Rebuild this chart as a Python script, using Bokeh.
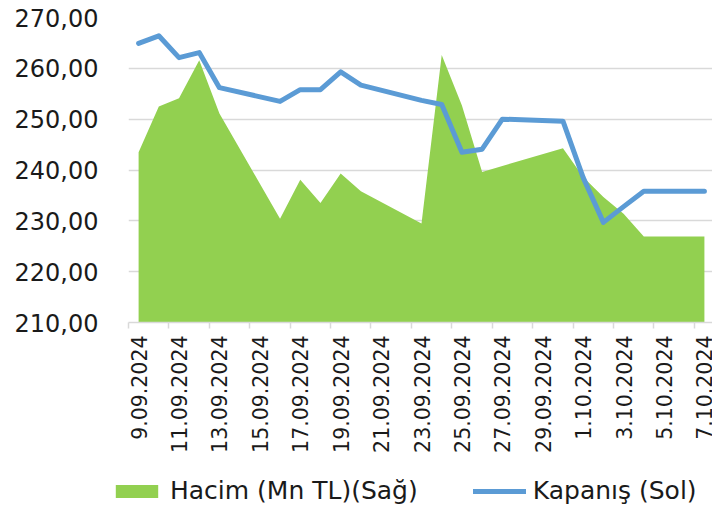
import math
from datetime import date
from bokeh.plotting import figure
from bokeh.layouts import column
from bokeh.models import (Range1d, FixedTicker, Legend, LegendItem, ColumnDataSource)
from bokeh.embed import file_html
from bokeh.resources import INLINE

# ---- data ----
dates = ["9.09.2024", "10.09.2024", "11.09.2024", "12.09.2024", "13.09.2024",
         "16.09.2024", "17.09.2024", "18.09.2024", "19.09.2024", "20.09.2024",
         "23.09.2024", "24.09.2024", "25.09.2024", "26.09.2024", "27.09.2024",
         "30.09.2024", "1.10.2024", "2.10.2024", "3.10.2024", "4.10.2024",
         "7.10.2024"]
kapanis = [264.9, 266.4, 262.1, 263.1, 256.2, 253.5, 255.8, 255.8, 259.3, 256.7,
           253.7, 252.9, 243.5, 244.1, 250.0, 249.6, 238.5, 229.7, 232.8, 235.8,
           235.8]
# volume on the (hidden) right axis, relative scale 0..60
hacim = [33.5, 42.5, 44.1, 51.6, 41.1, 20.4, 28.1, 23.5, 29.3, 25.8,
         19.5, 52.6, 42.7, 29.6, 30.8, 34.3, 28.6, 24.7, 21.4, 16.9,
         16.9]
x_tick_labels = ["9.09.2024", "11.09.2024", "13.09.2024", "15.09.2024",
                 "17.09.2024", "19.09.2024", "21.09.2024", "23.09.2024",
                 "25.09.2024", "27.09.2024", "29.09.2024", "1.10.2024",
                 "3.10.2024", "5.10.2024", "7.10.2024"]
y_ticks = [210, 220, 230, 240, 250, 260, 270]
series_names = ["Hacim (Mn TL)(Sağ)", "Kapanış (Sol)"]

GREEN = "#92D050"
BLUE = "#5B9BD5"
FONT = "DejaVu Sans"
TXT = "#1a1a1a"


def to_date(s):
    d, m, y = s.split(".")
    return date(int(y), int(m), int(d))


d0 = to_date(dates[0])
xs = [(to_date(s) - d0).days for s in dates]
tick_x = [(to_date(s) - d0).days for s in x_tick_labels]
minor_x = [t - 0.5 for t in tick_x]

src = ColumnDataSource(dict(x=xs, k=kapanis, h=hacim, h0=[0] * len(xs)))

p = figure(width=712, height=466, output_backend="svg", toolbar_location=None,
           x_range=Range1d(-0.5, 28.4), y_range=Range1d(210, 270),
           min_border_left=128, min_border_right=0, min_border_top=17,
           min_border_bottom=144)
p.extra_y_ranges = {"sag": Range1d(0, 60)}
p.outline_line_color = None

area = p.varea(x="x", y1="h0", y2="h", source=src, fill_color=GREEN,
               y_range_name="sag")
line = p.line(x="x", y="k", source=src, line_color=BLUE, line_width=5,
              line_join="round", line_cap="round")

# grid
p.xgrid.visible = False
p.ygrid.ticker = FixedTicker(ticks=y_ticks)
p.ygrid.grid_line_color = "#D9D9D9"
p.ygrid.grid_line_width = 1.5

# y axis
p.yaxis.ticker = FixedTicker(ticks=y_ticks)
p.yaxis.major_label_overrides = {t: f"{t:.2f}".replace(".", ",") for t in y_ticks}
p.yaxis.axis_line_color = None
p.yaxis.major_tick_line_color = None
p.yaxis.minor_tick_line_color = None
p.yaxis.major_label_standoff = 24
p.yaxis.major_label_text_font = FONT
p.yaxis.major_label_text_font_size = "24px"
p.yaxis.major_label_text_color = TXT

# x axis
p.xaxis.ticker = FixedTicker(ticks=tick_x, minor_ticks=minor_x)
p.xaxis.major_label_overrides = {t: lab for t, lab in zip(tick_x, x_tick_labels)}
p.xaxis.major_label_orientation = math.pi / 2
p.xaxis.axis_line_color = "#D9D9D9"
p.xaxis.axis_line_width = 1.5
p.xaxis.major_tick_out = 0
p.xaxis.major_tick_in = 0
p.xaxis.minor_tick_out = 6
p.xaxis.minor_tick_in = 0
p.xaxis.minor_tick_line_color = "#D9D9D9"
p.xaxis.minor_tick_line_width = 1.5
p.xaxis.major_label_standoff = 7
p.xaxis.major_label_text_font = FONT
p.xaxis.major_label_text_font_size = "20.5px"
p.xaxis.major_label_text_color = TXT

# ---- legend strip (separate figure below; proxies are hidden renderers) ----
lg = figure(width=712, height=42, output_backend="svg", toolbar_location=None,
            x_range=Range1d(0, 1), y_range=Range1d(0, 1),
            x_axis_location=None, y_axis_location=None, min_border=0)
lg.frame_align = False
lg.outline_line_color = None
lg.grid.visible = False
la = lg.varea(x="x", y1="h0", y2="h", source=src, fill_color=GREEN, visible=False)
ll = lg.line(x="x", y="k", source=src, line_color=BLUE, line_width=5,
             line_cap="round", visible=False)
legend = Legend(items=[LegendItem(label=series_names[0], renderers=[la]),
                       LegendItem(label=series_names[1], renderers=[ll])],
                orientation="horizontal", location=(110, 3),
                glyph_width=53, glyph_height=16, label_standoff=7, spacing=55,
                padding=0, margin=0, border_line_color=None,
                background_fill_alpha=0, inactive_fill_alpha=0,
                label_text_font=FONT, label_text_font_size="25px",
                label_text_color=TXT)
lg.add_layout(legend, "center")

open("out.html", "w").write(file_html(column(p, lg, spacing=0), INLINE))
